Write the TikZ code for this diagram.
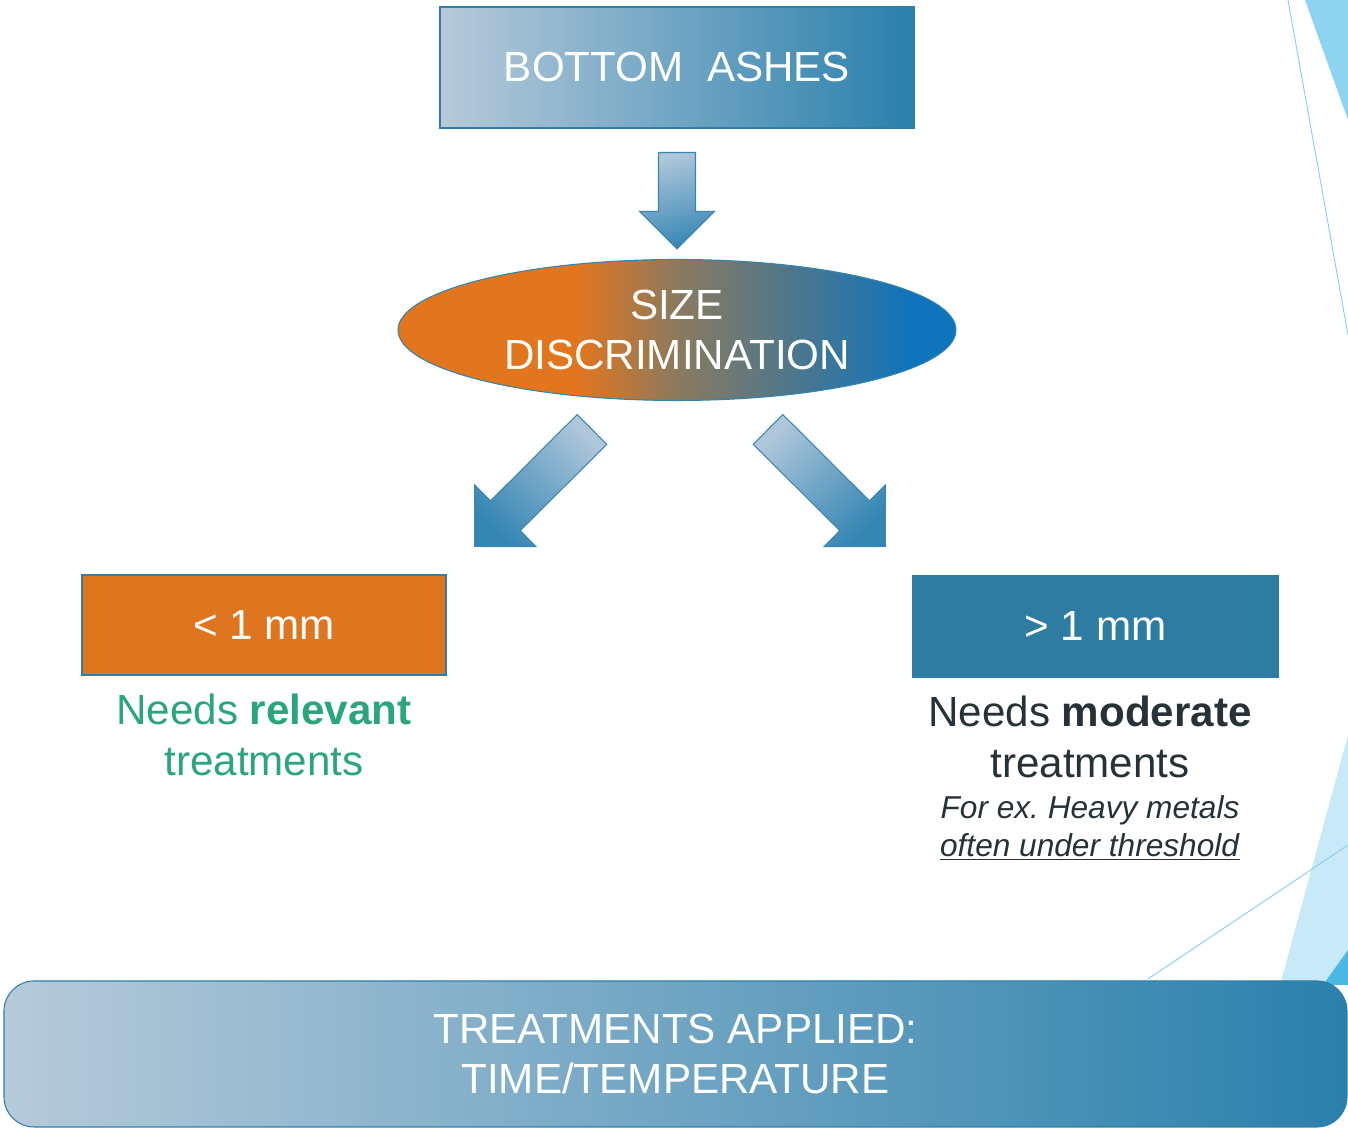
\documentclass[tikz,border=0pt]{standalone}
\usepackage{fontspec}
\setmainfont{Liberation Sans}
\usetikzlibrary{calc, positioning, shapes.geometric}
\frenchspacing

\definecolor{ashlight}{HTML}{B6CADA}
\definecolor{ashdark}{HTML}{2A80AC}
\definecolor{ashline}{HTML}{2F80A9}
\definecolor{splitorange}{HTML}{E2761F}
\definecolor{splitmid}{HTML}{8A7A5E}
\definecolor{splitblue}{HTML}{0F74BB}
\definecolor{splitline}{HTML}{2F86B0}
\definecolor{fineorange}{HTML}{E07520}
\definecolor{coarseblue}{HTML}{2E7CA2}
\definecolor{notegreen}{HTML}{2AA67A}
\definecolor{notedark}{HTML}{263238}
\definecolor{arrowlight}{HTML}{AFC7DA}
\definecolor{arrowdark}{HTML}{3686B4}
\definecolor{arrowline}{HTML}{3A85B0}
\definecolor{skyline}{HTML}{7FD0F0}
\definecolor{skyfill}{HTML}{8ED3EF}
\definecolor{skypale}{HTML}{C8E9F7}
\definecolor{skydeep}{HTML}{4CB8E6}

\pgfdeclarehorizontalshading{splitshade}{100bp}{color(0bp)=(splitorange); color(41bp)=(splitorange); color(50bp)=(splitmid); color(71bp)=(splitblue); color(100bp)=(splitblue)}

\newcommand{\boxfont}{\fontsize{24}{29}\selectfont}
\newcommand{\exfont}{\fontsize{18}{21.6}\selectfont}

% block arrow: style, from, to, half shaft width, half head width
\newcommand{\blockarrow}[5]{%
  \coordinate (hb) at ($(#3)!#5!(#2)$);
  \path[#1] ($(#2)!#4!90:(#3)$) -- ($(hb)!#4!90:(#3)$) -- ($(hb)!#5!90:(#3)$)
    -- (#3) -- ($(hb)!#5!-90:(#3)$) -- ($(hb)!#4!-90:(#3)$)
    -- ($(#2)!#4!-90:(#3)$) -- cycle;
}

\begin{document}
\begin{tikzpicture}[x=1mm,y=1mm,
  flowbox/.style={draw=ashline, line width=0.6pt, inner sep=0pt,
    text=white, font=\boxfont, align=center},
  notetext/.style={font=\boxfont, align=center, inner sep=0pt},
  arrowshade/.style={draw=arrowline, line width=0.6pt,
    top color=arrowlight, bottom color=arrowdark}]
\useasboundingbox (0,0) rectangle (269.6,225.6);

% corner decoration
\fill[skyfill] (261,225.6) -- (269.6,225.6) -- (269.6,201.6) -- cycle;
\draw[skyline,line width=0.5pt] (257.6,225.6) -- (269.6,158.6);
\fill[skypale] (256,28.6) -- (269.6,78.6) -- (269.6,28.6) -- cycle;
\fill[skydeep] (264.6,28.6) -- (269.6,35.6) -- (269.6,28.6) -- cycle;
\draw[skyline,line width=0.5pt] (229.6,29.8) -- (269.6,56.6);

\node[flowbox, left color=ashlight, right color=ashdark,
  minimum width=94.8mm, minimum height=24.2mm] (ashes) at (135.4,212.1)
  {BOTTOM\ \ ASHES};
\node[flowbox, ellipse, draw=splitline, shade, shading=splitshade,
  minimum width=111.6mm, minimum height=28.2mm] (split) at (135.4,159.6)
  {SIZE\\DISCRIMINATION};

\node[flowbox, fill=fineorange, minimum width=72.8mm, minimum height=20mm]
  (fine) at (52.8,100.6) {< 1 mm};
\node[flowbox, fill=coarseblue, draw=coarseblue, minimum width=73mm,
  minimum height=20.2mm] (coarse) at (219.1,100.3) {> 1 mm};

\node[notetext, text=notegreen, below=3.6mm of fine] (finenote)
  {Needs \textbf{relevant}\\treatments};
\node[notetext, text=notedark, below=3.6mm of coarse, xshift=-1.1mm] (coarsenote)
  {Needs \textbf{moderate}\\treatments};
\node[notetext, font=\exfont, text=notedark, below=3.4mm of coarsenote] (coarseex)
  {\textit{For ex. Heavy metals}\\\underline{\textit{often under threshold}}};

\node[flowbox, rounded corners=6mm, left color=ashlight, right color=ashdark,
  minimum width=268.6mm, minimum height=29.2mm] (treat) at (135.1,14.8)
  {TREATMENTS APPLIED:\\TIME/TEMPERATURE};

% arrows
\coordinate (downfrom) at ([yshift=-4.8mm]ashes.south);
\coordinate (downto) at ([yshift=2mm]split.north);
\blockarrow{arrowshade, shading angle=15}{downfrom}{downto}{3.7mm}{7.5mm}
\coordinate (finefrom) at ([shift={(-17,-19.9)}]split.center);
\coordinate (fineto) at ([shift={(5.6,5.6)}]fine.north east);
\blockarrow{arrowshade, shading angle=-45}{finefrom}{fineto}{4.2mm}{8.7mm}
\coordinate (coarsefrom) at ([shift={(18.2,-19.9)}]split.center);
\coordinate (coarseto) at ([shift={(-5.4,5.8)}]coarse.north west);
\blockarrow{arrowshade, shading angle=45}{coarsefrom}{coarseto}{4.2mm}{8.7mm}
\end{tikzpicture}
\end{document}
